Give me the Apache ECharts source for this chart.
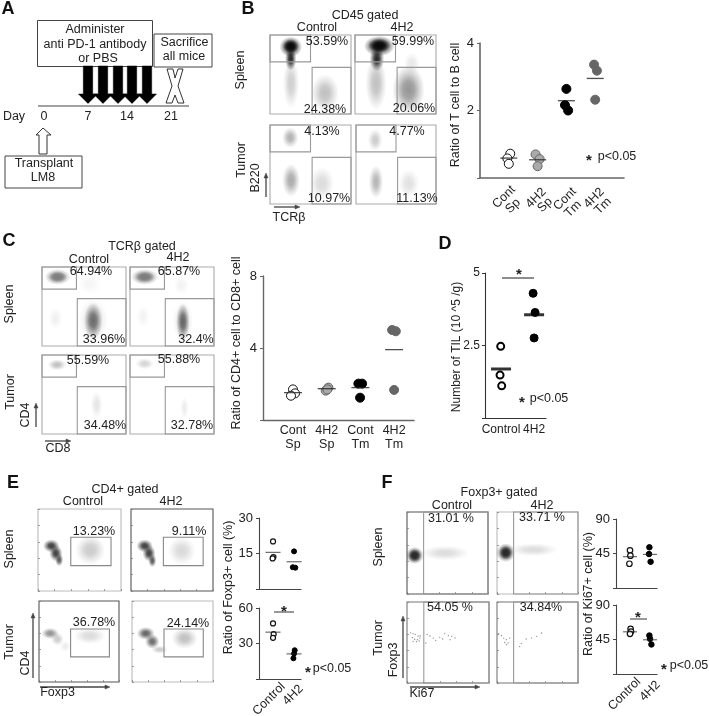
<!DOCTYPE html>
<html><head><meta charset="utf-8">
<style>html,body{margin:0;padding:0;background:#fff}#c{width:709px;height:716px}</style>
<script src="https://cdn.jsdelivr.net/npm/echarts@6/dist/echarts.min.js"></script>
</head><body><div id="c"></div>
<script>
// ---------- data: ratio / count plots ([jittered group position, value]) ----------
const bCats = ['Cont\nSp','4H2\nSp','Cont\nTm','4H2\nTm'];
const bContSp = [[1.05,0.72],[0.95,0.58],[1.0,0.42]];
const b4H2Sp  = [[1.93,0.70],[2.07,0.56],[2.0,0.35]];
const bContTm = [[3.0,2.64],[2.95,2.16],[3.06,2.0]];
const b4H2Tm  = [[3.96,3.36],[4.06,3.18],[4.0,2.32]];
const bMeans  = [0.59,0.54,2.29,2.95];

const cContSp = [[1.0,1.70],[1.06,1.48],[0.94,1.35]];
const c4H2Sp  = [[2.05,1.80],[1.97,1.63],[2.02,1.70]];
const cContTm = [[2.94,2.02],[3.05,2.02],[2.99,1.24]];
const c4H2Tm  = [[3.94,5.0],[4.05,4.93],[4.0,1.67]];
const cMeans  = [1.52,1.74,1.80,3.91];

const twoCats = ['Control','4H2'];
const dControl = [[0.99,2.47],[0.97,1.48],[1.02,1.11]];
const d4H2     = [[1.97,4.30],[2.03,3.64],[2.0,2.76]];
const dMeans   = [1.69,3.56];

const eSpControl = [[1.0,20.1],[1.02,13.5],[0.98,12.9]];
const eSp4H2     = [[2.0,15.9],[1.94,9.2],[2.06,9.0]];
const eSpMeans   = [15.5,11.5];
const eTmControl = [[1.0,47],[1.03,37.9],[1.0,34.8]];
const eTm4H2     = [[2.03,24.3],[2.0,21.5],[1.97,17.5]];
const eTmMeans   = [39.6,21.2];

const fSpControl = [[1.0,49.2],[1.02,42.1],[0.97,31.6]];
const fSp4H2     = [[1.97,53.1],[1.95,44.3],[2.03,34.2]];
const fSpMeans   = [40.8,43.9];
const fTmControl = [[1.03,58.8],[1.05,55.4],[1.0,52.4]];
const fTm4H2     = [[1.97,50.2],[2.0,45.9],[2.07,38.5]];
const fTmMeans   = [55,44.6];

// ---------- data: flow-cytometry populations, [x%, y%, rx%, ry%, gray, alpha] ----------
const bSpCtrlClouds = [[26,39,10,32,160,.5],[68,26.5,17,24,150,.6],[25.6,70,7,15,25,.95],[25.6,85,14,13,15,1],[25.6,86,10,9,10,1]];
const bSp4H2Clouds  = [[26,39,13,34,150,.6],[66,30.7,20,31,130,.85],[70,64,10,14,180,.3],[27,70,9,16,25,.95],[30,86,19,13,10,1],[30,87,14,9,10,1]];
const bTmCtrlClouds = [[25,84,10,13,100,.5],[26,30,11,21,150,.8],[64,26,15,21,165,.4]];
const bTm4H2Clouds  = [[24,81,9,14,120,.38],[25,28,9,21,150,.7],[66,26,13,18,170,.35]];
const cSpCtrlClouds = [[16,35,8,14,180,.2],[57,79,14,14,190,.15],[61,32,17,28,160,.35],[61,32,11,23,100,.95],[18.6,87.4,15,10,125,1],[18.6,87.4,11,7,125,1]];
const cSp4H2Clouds  = [[15.5,37,8,14,180,.16],[61,77,9,12,190,.2],[63,31,12,26,160,.35],[63,30.7,8,23,100,1],[17.5,87.4,16,10,125,1],[17.5,87.4,12,7,125,1]];
const cTmCtrlClouds = [[18,87.6,11,7,140,.55],[65,37,7,17,170,.3]];
const cTm4H2Clouds  = [[17.5,89,11,7,160,.45],[65,33,5,14,180,.25]];
const eSpCtrlClouds = [[63,50,18,18,140,.45],[16,55,10,8,60,1],[21.5,46,8,10,60,1],[25.5,38,5,8,80,.95]];
const eSp4H2Clouds  = [[62,49,17,17,160,.4],[16.7,55,10,8,60,1],[22,46,8,10,60,1],[26,37,5,8,80,.95]];
const eTmCtrlClouds = [[63.6,57,20,10,165,.4],[14,60,11,7,110,.75],[23,53,8,8,140,.45],[33,44,7,7,180,.25]];
const eTm4H2Clouds  = [[65,54,16,13,130,.5],[17,60,11,8,70,.85],[25,50,9,9,80,.85],[34,40,10,5,140,.45]];
const fSpCtrlClouds = [[47,50,30,9,185,.5],[9.5,47,11,10.5,50,1],[9.5,47,8,8,40,1]];
const fSp4H2Clouds  = [[45,54,30,8,185,.5],[10.8,50.4,11.5,11.5,50,1],[10.8,50.4,8,8.5,40,1]];
const fTmCtrlDots = [[4.5,62],[7.4,61],[10,60],[13.5,58],[16,58],[6.5,56],[9.4,54],[12.7,53.5],[15.6,55.5],[7.4,51.4],[11.5,51],[14.8,52],[24.6,60],[28,58],[32,55.5],[35,52.7],[23,49.4],[40,56.4],[46,61],[50.4,58.4],[54.5,57.6],[58.6,55.6],[52.5,53.5],[43.4,54.3]];
const fTm4H2Dots  = [[2,61],[5.4,58.4],[8.3,55.5],[11.6,53.5],[15.8,55.5],[9.5,50],[13.7,49.4],[11.6,47.3],[30,49],[36,54.3],[42.5,55.5],[49,57.6],[55,61.7],[28,45]];
const bGates = [[0,66,50,100],[52,0,100,59]];
const cGates = [[0,72,41,100],[42,0,100,60]];
const eGates = [[39.5,31,88,65.5]];
const fGates = [[20.5,0,100,100]];
const timelineDays = ['0','7','14','21'];

// ---------- layout ----------
const FONT = '"Liberation Sans",Arial,sans-serif';
const INK = '#222';
const grid=[],xAxis=[],yAxis=[],series=[],graphic=[];
const txt=(s,x,y,size=12.5,o={})=>graphic.push({type:'text',x,y,rotation:o.rot||0,z:50,silent:true,
  style:{text:s,fill:o.fill||INK,font:`${o.bold?'bold ':''}${size}px ${FONT}`,align:'center',textAlign:'center',verticalAlign:'middle',textVerticalAlign:'middle'}});
const vtxt=(s,x,y,size=12.5)=>txt(s,x,y,size,{rot:Math.PI/2});
const dtxt=(s,x,y,size=12.5)=>txt(s,x,y,size,{rot:Math.PI/4});
const line=(x1,y1,x2,y2,c='#555',w=1.5)=>graphic.push({type:'line',z:40,silent:true,shape:{x1,y1,x2,y2},style:{stroke:c,lineWidth:w}});
const poly=(pts,fill,stroke,w=1)=>graphic.push({type:'polygon',z:40,silent:true,shape:{points:pts},style:{fill,stroke,lineWidth:w}});
const box=(x,y,width,height)=>graphic.push({type:'rect',z:30,silent:true,shape:{x,y,width,height},style:{fill:'#fff',stroke:'#444',lineWidth:1}});
const arrowUp=(x,y1,y2,c='#444')=>{line(x,y1,x,y2+3,c,1.3);poly([[x,y2],[x-2,y2+5],[x+2,y2+5]],c,c,.5);};
const arrowRight=(x1,x2,y,c='#444')=>{line(x1,y,x2-3,y,c,1.3);poly([[x2,y],[x2-5,y-2],[x2-5,y+2]],c,c,.5);};

function addAxes(rect,xo,yo){
  const i=grid.length;
  grid.push(Object.assign({show:false,containLabel:false},rect));
  xAxis.push(Object.assign({gridIndex:i,type:'value',splitLine:{show:false}},xo));
  yAxis.push(Object.assign({gridIndex:i,type:'value',splitLine:{show:false}},yo));
  return i;
}
function flowPanel(rect,clouds,gates,frame,gateColor,ticks,dots){
  const tk={show:!!ticks,inside:true,length:2,lineStyle:{color:'#777',width:.7}};
  const i=addAxes(rect,
    {min:0,max:100,interval:20,axisLine:{show:false},axisLabel:{show:false},axisTick:tk},
    {min:0,max:100,interval:20,axisLine:{show:false},axisLabel:{show:false},axisTick:tk});
  grid[i].show=true; grid[i].borderColor=frame; grid[i].borderWidth=1.1; grid[i].backgroundColor='#fff';
  series.push({type:'custom',xAxisIndex:i,yAxisIndex:i,silent:true,clip:true,z:3,data:clouds,
    renderItem(p,api){
      const c=api.coord([api.value(0),api.value(1)]),s=api.size([api.value(2),api.value(3)]);
      const g=api.value(4),a=api.value(5),col=k=>`rgba(${g},${g},${g},${k})`;
      return {type:'circle',x:c[0],y:c[1],scaleX:s[0],scaleY:s[1],shape:{cx:0,cy:0,r:1},
        style:{fill:new echarts.graphic.RadialGradient(.5,.5,.5,[{offset:0,color:col(a)},{offset:.35,color:col(a*.85)},{offset:.7,color:col(a*.35)},{offset:1,color:col(0)}])}};
    },encode:{x:0,y:1}});
  series.push({type:'custom',xAxisIndex:i,yAxisIndex:i,silent:true,z:4,data:gates,
    renderItem(p,api){
      const a=api.coord([api.value(0),api.value(3)]),b=api.coord([api.value(2),api.value(1)]);
      return {type:'rect',shape:{x:a[0],y:a[1],width:b[0]-a[0],height:b[1]-a[1]},style:{fill:'none',stroke:gateColor,lineWidth:1.1}};
    },encode:{x:0,y:1}});
  if(dots) series.push({type:'scatter',xAxisIndex:i,yAxisIndex:i,silent:true,z:5,data:dots,symbolSize:1.3,itemStyle:{color:'#666'}});
}
function ratioPlot(rect,xr,yr,cats,groups,means,o){
  const yTick=v=>(v===0?'':String(v));
  const i=addAxes(rect,
    {min:xr[0],max:xr[1],axisLine:{lineStyle:{color:o.axis,width:o.axisW}},axisTick:{show:false},
     axisLabel:o.hideX?{show:false}:{customValues:cats.map((_,k)=>k+1),formatter:v=>cats[Math.round(v)-1]||'',margin:o.xMargin||7,
       color:INK,fontSize:o.xSize||12.5,lineHeight:14,fontFamily:FONT,hideOverlap:false}},
    {min:0,max:yr[0],interval:yr[1],axisLine:{lineStyle:{color:o.axis,width:o.axisW}},axisTick:{length:3,lineStyle:{color:o.axis}},
     axisLabel:{formatter:yTick,color:INK,fontSize:o.ySize||13,margin:o.yMargin||6,fontFamily:FONT}});
  groups.forEach((g,k)=>{
    series.push({type:'scatter',xAxisIndex:i,yAxisIndex:i,silent:true,z:5,data:g.d,symbol:'circle',symbolSize:g.size||o.size,
      itemStyle:{color:g.fill,borderColor:g.stroke,borderWidth:g.lw===undefined?1:g.lw,opacity:1}});
    series.push({type:'scatter',xAxisIndex:i,yAxisIndex:i,silent:true,z:6,data:[[k+1,means[k]]],symbol:'rect',
      symbolSize:[o.meanW,o.meanH],itemStyle:{color:o.meanC||'#222'}});
  });
}
const open={fill:'#fff',stroke:'#111'},blk={fill:'#000',stroke:'#000'},gry={fill:'#aaa',stroke:'#666'},dk={fill:'#666',stroke:'#666'};

// ---------- Panel A ----------
txt('A',8,9,18,{bold:true,fill:'#111'});
[88,103,118,132,147].forEach(c=>{poly([[c-4.7,66],[c+4.7,66],[c+4.7,94],[c+9.5,94],[c,103.5],[c-9.5,94],[c-4.7,94]],'#000','#000',.5);});
box(37.5,20.5,115,46); box(154,34,58,33); box(5,156,77,32);
txt('Administer',95,30,12.5); txt('anti PD-1 antibody',95,44.5,12.5); txt('or PBS',98,59,12.5);
txt('Sacrifice',184.5,43,12.5); txt('all mice',184,57,12.5);
poly([[167,69],[173,69],[175,78],[178,69],[183,69],[178,86],[184,103],[178,103],[175,95],[172,103],[166,103],[172,86]],'#fff','#333',1);
line(38,106,189,106,'#444',1.2);
txt('Day',14,117,12.5);
[44,88,127,171].forEach((x,k)=>txt(timelineDays[k],x,117,12.5));
poly([[43,128],[51,135],[47,135],[47,154],[39,154],[39,135],[36,135]],'#fff','#333',1);
txt('Transplant',44,164,12.5); txt('LM8',43,178,12.5);

// ---------- Panel B ----------
txt('B',248,9,18,{bold:true,fill:'#111'});
txt('CD45 gated',365,16); txt('Control',317,28); txt('4H2',402,28);
vtxt('Spleen',241,70); vtxt('Tumor',242,160); vtxt('B220',256,178);
arrowUp(266,197,173); arrowRight(274,300,207); txt('TCRβ',289,218);
const gB='#999',fB='#aaa';
flowPanel({left:270,top:35,width:81,height:79},bSpCtrlClouds,bGates,fB,gB);
flowPanel({left:355,top:35,width:81,height:79},bSp4H2Clouds,bGates,fB,gB);
flowPanel({left:270,top:125,width:81,height:79},bTmCtrlClouds,bGates,fB,gB);
flowPanel({left:356,top:125,width:80,height:79},bTm4H2Clouds,bGates,fB,gB);
[['53.59%',327,42],['59.99%',413,42],['24.38%',325,110],['20.06%',414,109],['4.13%',322,132],['4.77%',407,132],['10.97%',329,199],['11.13%',417,199]].forEach(a=>txt(a[0],a[1],a[2]));
vtxt('Ratio of T cell to B cell',456,105);
ratioPlot({left:480,top:43,width:144,height:135},[0,5],[4,2],bCats,
  [{d:bContSp,...open},{d:b4H2Sp,...gry},{d:bContTm,...blk},{d:b4H2Tm,...dk}],bMeans,
  {axis:'#666',axisW:1.6,size:9,meanW:17,meanH:1.3,hideX:true,yMargin:6});
[[504,197,513,206],[536,198,545,205],[565,199,573,209],[594,198,603,206]].forEach((p,k)=>{
  const parts=bCats[k].split('\n'); dtxt(parts[0],p[0],p[1]); dtxt(parts[1],p[2],p[3]);
});
txt('*',589,161,15,{bold:true}); txt('p<0.05',617,157);

// ---------- Panel C ----------
txt('C',9,241,18,{bold:true,fill:'#111'});
txt('TCRβ gated',142,247); txt('Control',89,260); txt('4H2',178,258);
vtxt('Spleen',10,304); vtxt('Tumor',11,392); vtxt('CD4',26,415);
arrowUp(36,427,403); arrowRight(45,71,441); txt('CD8',58,449);
flowPanel({left:42,top:267,width:84,height:79},cSpCtrlClouds,cGates,fB,gB);
flowPanel({left:130,top:267,width:84,height:79},cSp4H2Clouds,cGates,fB,gB);
flowPanel({left:42,top:355,width:84,height:79},cTmCtrlClouds,cGates,fB,gB);
flowPanel({left:130,top:355,width:84,height:79},cTm4H2Clouds,cGates,fB,gB);
[['64.94%',91,272],['65.87%',179,272],['33.96%',104,340],['32.4%',196,340],['55.59%',88,361],['55.88%',179,360],['34.48%',105,426],['32.78%',192,426]].forEach(a=>txt(a[0],a[1],a[2]));
vtxt('Ratio of CD4+ cell to CD8+ cell',237,343);
ratioPlot({left:263,top:276,width:151,height:144},[0.11,4.59],[8,4],bCats,
  [{d:cContSp,...open},{d:c4H2Sp,...gry},{d:cContTm,...blk},{d:c4H2Tm,...dk}],cMeans,
  {axis:'#666',axisW:1.4,size:9,meanW:18,meanH:1.3,xSize:12.5,xMargin:4,ySize:13,yMargin:6});

// ---------- Panel D ----------
txt('D',445,244,18,{bold:true,fill:'#111'});
vtxt('Number of TIL (10 ^5 /g)',457,347,12);
ratioPlot({left:485,top:273,width:61,height:145},[0.515,2.36],[5,2.5],twoCats,
  [{d:dControl,fill:'#fff',stroke:'#000',lw:2,size:7},{d:d4H2,...blk,size:8}],dMeans,
  {axis:'#333',axisW:1.1,size:8,meanW:20,meanH:3,meanC:'#000',xSize:12,xMargin:5,ySize:12,yMargin:5});
line(502,278,534,278,'#666',1.5); txt('*',519,275,15,{bold:true});
txt('*',522,403,15,{bold:true}); txt('p<0.05',549,399);

// ---------- Panel E ----------
txt('E',13,483,18,{bold:true,fill:'#111'});
txt('CD4+ gated',125,490); txt('Control',83,502); txt('4H2',171,502);
vtxt('Spleen',10,549); vtxt('Tumor',10,642); vtxt('CD4',26,663);
arrowUp(33,678,613); arrowRight(40,110,687); txt('Foxp3',57.5,693);
const gE='#888';
flowPanel({left:38,top:509,width:83,height:82},eSpCtrlClouds,eGates,'#bbb',gE,true);
flowPanel({left:131,top:509,width:82,height:82},eSp4H2Clouds,eGates,'#555',gE,true);
flowPanel({left:39,top:601,width:80,height:81},eTmCtrlClouds,eGates,'#555',gE,true);
flowPanel({left:132,top:601,width:81,height:81},eTm4H2Clouds,eGates,'#bbb',gE,true);
[['13.23%',94,532],['9.11%',189,532],['36.78%',94,623],['24.14%',188,624]].forEach(a=>txt(a[0],a[1],a[2]));
vtxt('Ratio of Foxp3+ cell (%)',229,587.5,12.5);
const small={axis:'#444',axisW:1.1,size:5,meanW:15,meanH:1,meanC:'#222',ySize:13,yMargin:6,hideX:true};
ratioPlot({left:259,top:518,width:42,height:71},[0.333,2.33],[30,15],twoCats,
  [{d:eSpControl,fill:'#fff',stroke:'#111',lw:1.2},{d:eSp4H2,...blk}],eSpMeans,small);
ratioPlot({left:259,top:608,width:42,height:71},[0.333,2.33],[60,30],twoCats,
  [{d:eTmControl,fill:'#fff',stroke:'#111',lw:1.2},{d:eTm4H2,...blk}],eTmMeans,small);
dtxt(twoCats[0],269,699); dtxt(twoCats[1],293,695);
line(274,612,294,612,'#555',1.2); txt('*',284,612,15,{bold:true});
txt('*',308,673,15,{bold:true}); txt('p<0.05',332,669);

// ---------- Panel F ----------
txt('F',387,483,18,{bold:true,fill:'#111'});
txt('Foxp3+ gated',499,493); txt('Control',452,506); txt('4H2',542,506);
vtxt('Spleen',379,547); vtxt('Tumor',379,638); vtxt('Foxp3',394,660);
arrowUp(403,678,616); arrowRight(410,480,687); txt('Ki67',422,694);
const gF='#999';
flowPanel({left:407,top:512,width:81,height:82},fSpCtrlClouds,fGates,'#555',gF,true);
flowPanel({left:497,top:512,width:81,height:82},fSp4H2Clouds,fGates,'#bbb',gF,true);
flowPanel({left:407,top:602,width:82,height:81},[],fGates,'#777',gF,true,fTmCtrlDots);
flowPanel({left:497,top:602,width:81,height:81},[],fGates,'#777',gF,true,fTm4H2Dots);
[['31.01 %',451,519],['33.71 %',542,518],['54.05 %',450,608],['34.84%',541,608]].forEach(a=>txt(a[0],a[1],a[2]));
vtxt('Ratio of Ki67+ cell (%)',589,594,12.5);
const smallF={axis:'#444',axisW:1.1,size:5.5,meanW:14,meanH:1,meanC:'#222',ySize:13,yMargin:6,hideX:true};
ratioPlot({left:616,top:519,width:41,height:69},[0.3,2.35],[90,45],twoCats,
  [{d:fSpControl,fill:'#fff',stroke:'#111',lw:1.2},{d:fSp4H2,...blk}],fSpMeans,smallF);
ratioPlot({left:616,top:605,width:41,height:69},[0.3,2.35],[90,45],twoCats,
  [{d:fTmControl,fill:'#fff',stroke:'#111',lw:1.2},{d:fTm4H2,...blk}],fTmMeans,smallF);
dtxt(twoCats[0],624.5,694); dtxt(twoCats[1],650,691);
line(630,619,647,619,'#555',1.2); txt('*',638,618,15,{bold:true});
txt('*',664,670,15,{bold:true}); txt('p<0.05',689,666);

const chart=echarts.init(document.getElementById('c'),null,{renderer:'canvas'});
chart.setOption({animation:false,backgroundColor:'#fff',textStyle:{fontFamily:FONT},tooltip:{show:false},grid,xAxis,yAxis,series,graphic});
</script></body></html>
